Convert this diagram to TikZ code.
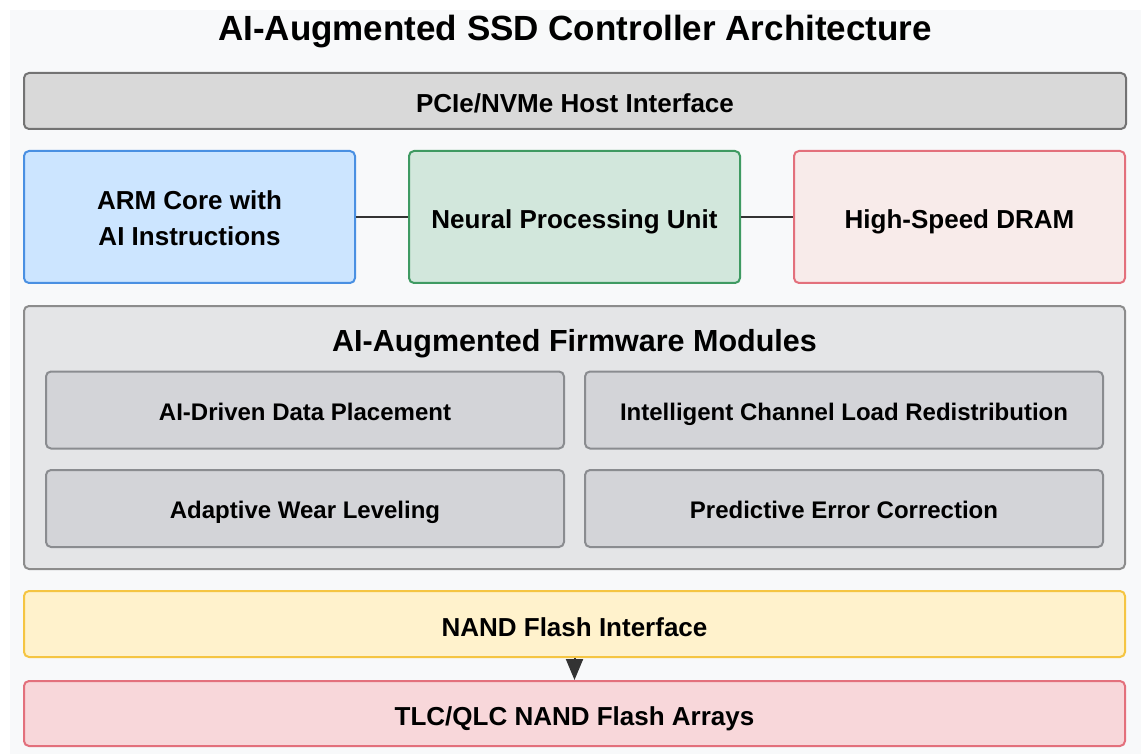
\documentclass[tikz,border=0pt]{standalone}
\usepackage{fontspec}
\setmainfont{Liberation Sans}
\usepackage{xcolor}
\usetikzlibrary{arrows.meta}

\definecolor{bgcol}{HTML}{F8F9FA}
\definecolor{hostfill}{HTML}{D9D9D9}
\definecolor{hostline}{HTML}{737373}
\definecolor{armfill}{HTML}{CCE5FF}
\definecolor{armline}{HTML}{4A90E2}
\definecolor{npufill}{HTML}{D2E7DC}
\definecolor{npuline}{HTML}{3F9A62}
\definecolor{dramfill}{HTML}{F8EBEA}
\definecolor{dramline}{HTML}{E3707C}
\definecolor{fwfill}{HTML}{E4E5E7}
\definecolor{fwline}{HTML}{8C8C8C}
\definecolor{modfill}{HTML}{D3D4D8}
\definecolor{modline}{HTML}{8A8C90}
\definecolor{nandfill}{HTML}{FFF2CC}
\definecolor{nandline}{HTML}{F5C542}
\definecolor{flashfill}{HTML}{F8D7DA}
\definecolor{flashline}{HTML}{E3707C}
\definecolor{wirecol}{HTML}{333333}

\begin{document}
\begin{tikzpicture}[x=1pt,y=-1pt,
    block/.style={rectangle, rounded corners=5pt, line width=2pt, inner sep=0pt,
      align=center, font=\fontsize{26}{36}\selectfont\bfseries, text=black},
    oneline/.style={text height=24pt, text depth=0pt},
    module/.style={block, text height=20pt, text depth=0pt, fill=modfill, draw=modline,
      minimum width=518pt, minimum height=77pt, font=\fontsize{24}{30}\selectfont\bfseries},
    wire/.style={draw=wirecol, line width=2pt}]
          \useasboundingbox (0,0) rectangle (1141,754);
          \fill[bgcol] (10,10) rectangle (1141,754);
          \node[font=\fontsize{35}{42}\selectfont\bfseries, anchor=base, inner sep=0pt] (title) at (575,41) {AI-Augmented SSD Controller Architecture};
          \node[block, oneline, fill=hostfill, draw=hostline, minimum width=1102pt, minimum height=56pt] (host) at (575,101) {PCIe/NVMe Host Interface};
          \node[block, fill=armfill, draw=armline, minimum width=331pt, minimum height=132pt] (arm) at (189.5,217) {\rule{0pt}{22pt}ARM Core with\\AI Instructions};
          \node[block, oneline, fill=npufill, draw=npuline, minimum width=331pt, minimum height=132pt] (npu) at (574.5,217) {Neural Processing Unit};
          \node[block, oneline, fill=dramfill, draw=dramline, minimum width=331pt, minimum height=132pt] (dram) at (959.5,217) {High-Speed DRAM};
          \draw[wire] (arm.east) -- (npu.west);
          \draw[wire] (npu.east) -- (dram.west);
          \node[block, fill=fwfill, draw=fwline, minimum width=1101pt, minimum height=263pt] (fw) at (574.5,437.5) {};
          \node[font=\fontsize{30.5}{36}\selectfont\bfseries, anchor=base, inner sep=0pt] (fwtitle) at (574.5,351) {AI-Augmented Firmware Modules};
          \node[module] (place) at (305,410) {AI-Driven Data Placement};
          \node[module] (chan) at (844,410) {Intelligent Channel Load Redistribution};
          \node[module] (wear) at (305,508.5) {Adaptive Wear Leveling};
          \node[module] (ecc) at (844,508.5) {Predictive Error Correction};
          \node[block, oneline, fill=nandfill, draw=nandline, minimum width=1101pt, minimum height=66pt] (nand) at (574.5,624) {NAND Flash Interface};
          \node[block, oneline, fill=flashfill, draw=flashline, minimum width=1101pt, minimum height=65pt] (flash) at (574.5,713.5) {TLC/QLC NAND Flash Arrays};
          \draw[wire, -{Triangle[width=17pt,length=21pt]}] (nand.south) -- (flash.north);
        \end{tikzpicture}
\end{document}
